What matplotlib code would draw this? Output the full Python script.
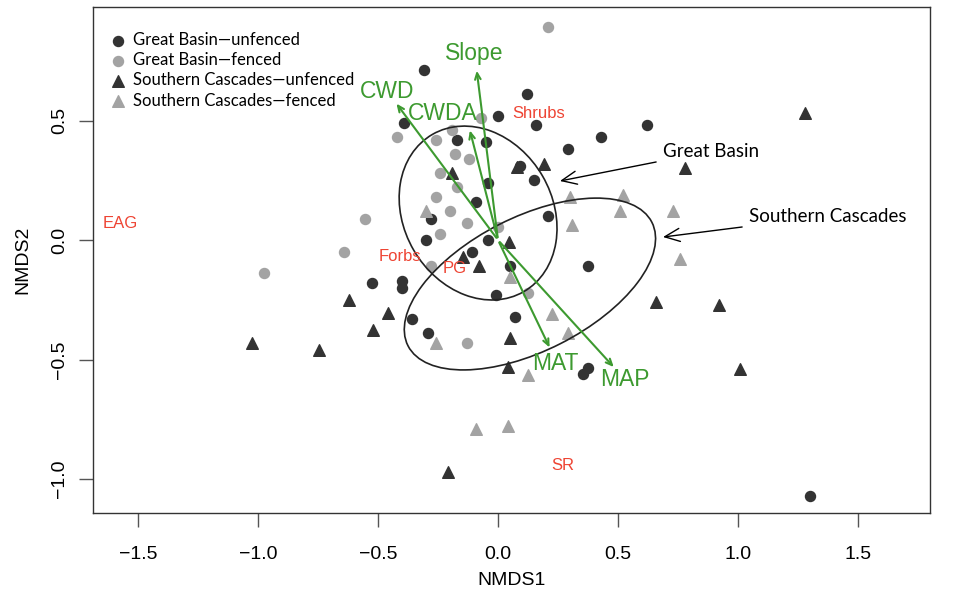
import matplotlib.pyplot as plt
from matplotlib.patches import Ellipse

# site scores (NMDS1, NMDS2)
gb_unf_x = [-0.31, -0.39, 0.12, 0.00, 0.16, 0.43, 0.62, 0.29, -0.17, -0.05, 0.09, 0.15, -0.04, -0.09,
            -0.28, 0.21, -0.30, -0.04, -0.11, 0.05, 0.375, -0.525, -0.40, -0.40, -0.01, -0.36, 0.07,
            -0.29, 0.355, 0.375, 1.30]
gb_unf_y = [0.71, 0.49, 0.61, 0.52, 0.48, 0.43, 0.48, 0.38, 0.42, 0.41, 0.31, 0.25, 0.24, 0.16,
            0.09, 0.10, 0.00, 0.00, -0.05, -0.11, -0.11, -0.18, -0.17, -0.20, -0.23, -0.33, -0.32,
            -0.39, -0.56, -0.535, -1.07]
gb_fen_x = [0.21, -0.42, -0.26, -0.07, -0.18, -0.12, -0.24, -0.19, -0.26, -0.17, -0.20, -0.13,
            -0.24, 0.00, -0.555, -0.64, -0.28, -0.13, 0.125, -0.975]
gb_fen_y = [0.89, 0.43, 0.42, 0.51, 0.36, 0.34, 0.28, 0.46, 0.18, 0.22, 0.12, 0.07,
            0.025, 0.055, 0.09, -0.05, -0.11, -0.43, -0.22, -0.14]
sc_unf_x = [-0.62, -0.46, -0.52, -1.025, -0.745, -0.145, -0.08, 0.045, 0.05, 0.04, -0.19, 0.08,
            0.19, 1.28, 0.78, 0.66, 0.92, 1.01, -0.21]
sc_unf_y = [-0.25, -0.305, -0.375, -0.43, -0.46, -0.07, -0.11, -0.01, -0.41, -0.53, 0.28, 0.305,
            0.32, 0.53, 0.30, -0.26, -0.27, -0.54, -0.97]
sc_fen_x = [-0.30, 0.05, 0.30, 0.31, 0.52, 0.51, 0.225, 0.29, -0.26, 0.125, 0.73, 0.76, -0.09, 0.04]
sc_fen_y = [0.12, -0.155, 0.18, 0.065, 0.19, 0.12, -0.31, -0.39, -0.43, -0.565, 0.12, -0.08,
            -0.79, -0.78]

# environmental vectors
vec_names = ['Slope', 'CWD', 'CWDA', 'MAT', 'MAP']
vec_x = [-0.09, -0.43, -0.12, 0.22, 0.49]
vec_y = [0.72, 0.58, 0.47, -0.46, -0.54]
vec_lab_x = [-0.10, -0.46, -0.23, 0.24, 0.53]
vec_lab_y = [0.78, 0.62, 0.53, -0.515, -0.585]

# species / functional group scores
spp_names = ['Shrubs', 'EAG', 'Forbs', 'PG', 'SR']
spp_x = [0.17, -1.575, -0.41, -0.18, 0.27]
spp_y = [0.53, 0.07, -0.07, -0.12, -0.945]

# group ellipses: center, semi-axes, angle
ell_names = ['Great Basin', 'Southern Cascades']
ell_cx = [-0.083, 0.133]
ell_cy = [0.113, -0.184]
ell_a = [0.38, 0.57]
ell_b = [0.31, 0.28]
ell_ang = [-60, 27]

dark = '#333333'
light = '#a3a3a3'
green = '#3d9a30'
red = '#ee4433'
arial = 'Liberation Sans'
calibri = 'Lato'

fig = plt.figure(figsize=(9.56, 5.94), dpi=100)
ax = fig.add_axes([0.0973, 0.1364, 0.8755, 0.8518])

ax.scatter(gb_unf_x, gb_unf_y, s=52, marker='o', color=dark, label='Great Basin\u2014unfenced', zorder=3)
ax.scatter(gb_fen_x, gb_fen_y, s=52, marker='o', color=light, label='Great Basin\u2014fenced', zorder=3)
ax.scatter(sc_unf_x, sc_unf_y, s=70, marker='^', color=dark, label='Southern Cascades\u2014unfenced', zorder=3)
ax.scatter(sc_fen_x, sc_fen_y, s=70, marker='^', color=light, label='Southern Cascades\u2014fenced', zorder=3)

for i in range(len(ell_names)):
    ax.add_patch(Ellipse((ell_cx[i], ell_cy[i]), 2 * ell_a[i], 2 * ell_b[i], angle=ell_ang[i],
                         fill=False, edgecolor='#222222', lw=1.2, zorder=4))

for i, name in enumerate(vec_names):
    ax.annotate('', xy=(vec_x[i], vec_y[i]), xytext=(0, 0),
                arrowprops=dict(arrowstyle='->,head_length=0.45,head_width=0.2', color=green, lw=1.5),
                zorder=5)
    ax.text(vec_lab_x[i], vec_lab_y[i], name, color=green, fontsize=16.5, family=arial,
            ha='center', va='center', zorder=6)

for i, name in enumerate(spp_names):
    ax.text(spp_x[i], spp_y[i], name, color=red, fontsize=12, family=arial,
            ha='center', va='center', zorder=6)

# group labels with pointers
ax.annotate('Great Basin', xy=(0.258, 0.247), xytext=(0.6875, 0.372), fontsize=13.5, family=calibri,
            va='center', ha='left',
            arrowprops=dict(arrowstyle='->,head_length=0.8,head_width=0.35', color='black', lw=1,
                            shrinkA=3, shrinkB=0))
ax.annotate('Southern Cascades', xy=(0.6875, 0.0126), xytext=(1.046, 0.10), fontsize=13.5, family=calibri,
            va='center', ha='left',
            arrowprops=dict(arrowstyle='->,head_length=0.8,head_width=0.35', color='black', lw=1,
                            shrinkA=3, shrinkB=0))

ax.set_xlim(-1.6875, 1.80)
ax.set_ylim(-1.142, 0.975)
ax.set_xticks([-1.5, -1.0, -0.5, 0.0, 0.5, 1.0, 1.5])
ax.set_yticks([-1.0, -0.5, 0.0, 0.5])
ax.set_xticklabels(['\u22121.5', '\u22121.0', '\u22120.5', '0.0', '0.5', '1.0', '1.5'])
ax.set_yticklabels(['\u22121.0', '\u22120.5', '0.0', '0.5'], rotation=90, va='center')
ax.tick_params(length=10, width=1, color='#555555', labelsize=14, pad=8)
ax.tick_params(axis='x', pad=14)
for lab in ax.get_xticklabels() + ax.get_yticklabels():
    lab.set_family(arial)
ax.set_xlabel('NMDS1', fontsize=14, family=arial, labelpad=6)
ax.set_ylabel('NMDS2', fontsize=14, family=arial, labelpad=14)
for sp in ax.spines.values():
    sp.set_linewidth(1)
    sp.set_color('#333333')

ax.legend(loc='upper left', bbox_to_anchor=(0.0, 0.98), frameon=False,
          prop={'family': calibri, 'size': 12}, handletextpad=0.3, labelspacing=0.25,
          borderaxespad=0.5, handlelength=1.2)

fig.savefig('out.png', dpi=100)
